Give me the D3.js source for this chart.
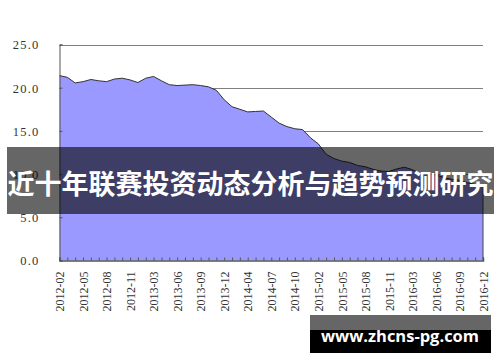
<!doctype html>
<html>
<head>
    <meta charset="utf-8">
    <title>联赛投资</title>
    <script src="https://cdn.jsdelivr.net/npm/d3@7"></script>
    <style>
        html, body { margin: 0; padding: 0; background: #fff; }
        #chart svg { display: block; }
    </style>
</head>
<body>
<div id="chart"></div>
<script>
    // months Feb..Dec of each year (January is merged into February)
    var years = [2012, 2013, 2014, 2015, 2016]
    var months = ["02", "03", "04", "05", "06", "07", "08", "09", "10", "11", "12"]
    var categories = []
    years.forEach(function (y) {
        months.forEach(function (m) { categories.push(y + "-" + m) })
    })

    var values = [
        21.4, 21.2, 20.55, 20.7, 20.95, 20.8, 20.7, 21.0, 21.1, 20.9, 20.6,
        21.1, 21.3, 20.8, 20.35, 20.25, 20.3, 20.35, 20.25, 20.1, 19.7, 18.6,
        17.8, 17.5, 17.2, 17.25, 17.3, 16.6, 15.9, 15.5, 15.25, 15.15, 14.2,
        13.5, 12.3, 11.8, 11.5, 11.35, 11.0, 10.85, 10.55, 10.35, 10.3, 10.6,
        10.8, 10.5, 10.1, 10.05, 9.9, 9.6, 9.4, 9.3, 9.0, 8.8, 8.5
    ]

    var yTicks = [0, 5, 10, 15, 20, 25]
    var title = "近十年联赛投资动态分析与趋势预测研究"
    var watermark = "www.zhcns-pg.com"

    var width = 500, height = 362
    var plotLeft = 59.5, plotRight = 483, plotTop = 44.5, plotBottom = 260.5

    var svg = d3.select("#chart").append("svg")
        .attr("width", width)
        .attr("height", height)

    var x = d3.scalePoint().domain(categories).range([plotLeft, plotRight])
    var y = d3.scaleLinear().domain([0, 25]).range([plotBottom, plotTop])

    // gridlines
    svg.append("g").selectAll("line")
        .data(yTicks.filter(function (d) { return d > 0 }))
        .join("line")
        .attr("x1", plotLeft).attr("x2", plotRight)
        .attr("y1", function (d) { return Math.round(y(d)) + 0.5 })
        .attr("y2", function (d) { return Math.round(y(d)) + 0.5 })
        .attr("stroke", "#808080")
        .attr("stroke-width", 1)

    // area
    var area = d3.area()
        .x(function (d, i) { return x(categories[i]) })
        .y0(y(0))
        .y1(function (d) { return y(d) })

    svg.append("path")
        .datum(values)
        .attr("d", area)
        .attr("fill", "#9999ff")

    var line = d3.line()
        .x(function (d, i) { return x(categories[i]) })
        .y(function (d) { return y(d) })

    svg.append("path")
        .datum(values)
        .attr("d", line)
        .attr("fill", "none")
        .attr("stroke", "#333")
        .attr("stroke-width", 1)

    // right edge of the area
    svg.append("line")
        .attr("x1", plotRight).attr("x2", plotRight)
        .attr("y1", y(values[values.length - 1])).attr("y2", plotBottom)
        .attr("stroke", "#444")

    // y axis
    var yAxis = d3.axisLeft(y)
        .tickValues(yTicks)
        .tickSize(-3)
        .tickPadding(20)
        .tickFormat(d3.format(".1f"))

    var gy = svg.append("g")
        .attr("transform", "translate(" + plotLeft + ",0)")
        .call(yAxis)
    gy.select(".domain").attr("stroke", "#555")
    gy.selectAll(".tick line").attr("stroke", "#555")
    gy.selectAll("text")
        .attr("font-family", "'Liberation Serif', serif")
        .attr("font-size", 12.5)
        .attr("letter-spacing", 1.2)
        .attr("fill", "#333")
        .attr("dy", "0.35em")

    // x axis
    var xAxis = d3.axisBottom(x)
        .tickSize(-3)
        .tickFormat(function (d, i) { return i % 3 === 0 ? d : "" })

    var gx = svg.append("g")
        .attr("transform", "translate(0," + plotBottom + ")")
        .call(xAxis)
    gx.select(".domain").attr("stroke", "#555").attr("stroke-width", 1.5)
    gx.selectAll(".tick line").attr("stroke", "#555")
    gx.selectAll("text")
        .attr("font-family", "'Liberation Serif', serif")
        .attr("font-size", 12)
        .attr("fill", "#333")
        .attr("text-anchor", "end")
        .attr("transform", "rotate(-90)")
        .attr("x", -11)
        .attr("y", 0)
        .attr("dy", "0.35em")

    // title banner
    svg.append("rect")
        .attr("x", 7).attr("y", 147)
        .attr("width", 487).attr("height", 67)
        .attr("fill", "#000")
        .attr("fill-opacity", 0.6)

    svg.append("text")
        .attr("x", 250.5).attr("y", 194)
        .attr("text-anchor", "middle")
        .attr("font-family", "'Noto Sans CJK SC', sans-serif")
        .attr("font-weight", "bold")
        .attr("font-size", 27)
        .attr("fill", "#fff")
        .text(title)

    // watermark
    svg.append("rect")
        .attr("x", 310).attr("y", 315)
        .attr("width", 181).attr("height", 15)
        .attr("fill", "#666")
    svg.append("rect")
        .attr("x", 310).attr("y", 330)
        .attr("width", 181).attr("height", 23)
        .attr("fill", "#000")
    svg.append("text")
        .attr("x", 321).attr("y", 342)
        .attr("font-family", "'Open Sans', sans-serif")
        .attr("font-weight", "bold")
        .attr("font-size", 16)
        .attr("textLength", 158)
        .attr("lengthAdjust", "spacingAndGlyphs")
        .attr("fill", "#fff")
        .text(watermark)
</script>
</body>
</html>
